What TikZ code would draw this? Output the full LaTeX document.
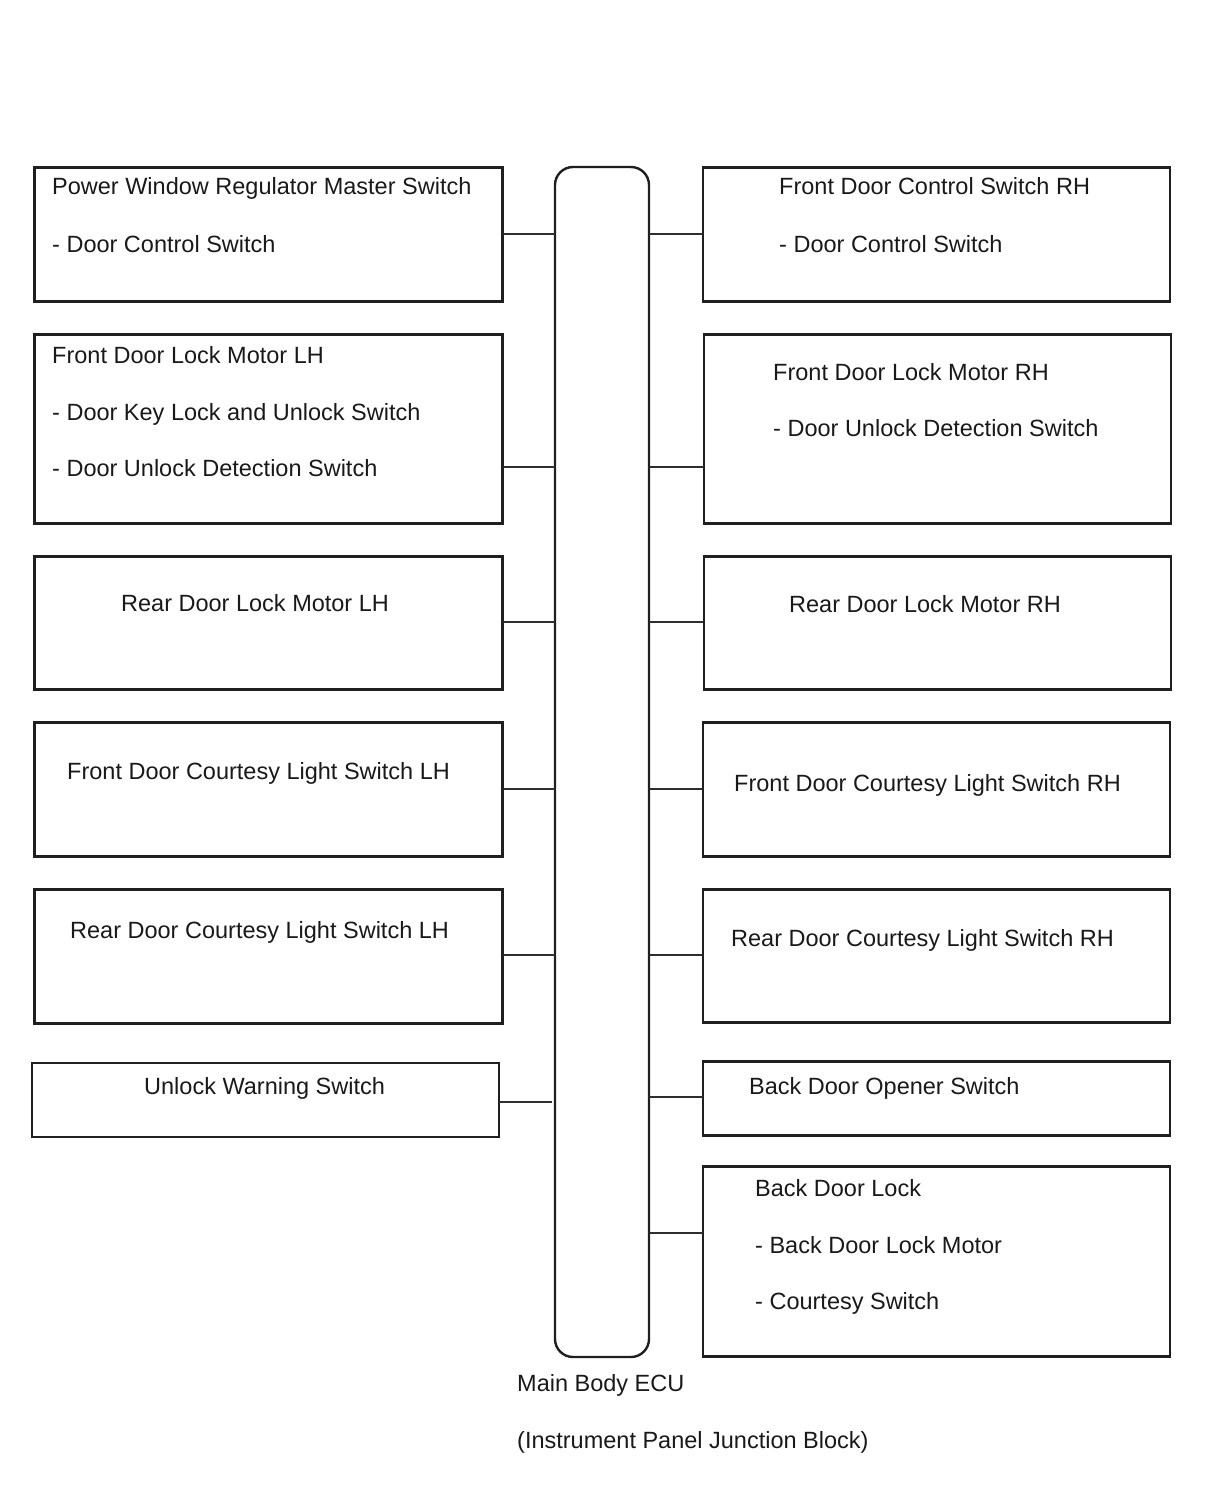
\documentclass[tikz,border=0pt]{standalone}
\usepackage{fontspec}
\setmainfont{Liberation Sans}
\begin{document}
\begin{tikzpicture}[x=1pt,y=-1pt,
  every node/.style={font=\fontsize{23.5}{28}\selectfont, text=black!90},
  box/.style={draw=black!88, line width=2.4pt, inner sep=0pt, outer sep=0pt, anchor=north west, fill=none},
  lbl/.style={anchor=base west, inner sep=0pt},
  conn/.style={draw=black!82, line width=2pt},
  ecubox/.style={draw=black!88, line width=2.4pt, rounded corners=18pt, inner sep=0pt, outer sep=0pt, anchor=north west, minimum width=94pt, minimum height=1190pt}]
\useasboundingbox (0,0) rectangle (1210,1498);
% ECU
\node[ecubox] (ecu) at (555,167) {};
\node[lbl] (ecuA) at (517,1391) {Main Body ECU};
\node[lbl] (ecuB) at (517,1448) {(Instrument Panel Junction Block)};
% Left boxes
\node[box, minimum width=468pt, minimum height=134pt] (L1) at (34.5,167.5) {};
\node[lbl] (L1a) at (52,195) {Power Window Regulator Master Switch};
\node[lbl] (L1b) at (52,252) {- Door Control Switch};
\node[box, minimum width=468pt, minimum height=189pt] (L2) at (34.5,334.5) {};
\node[lbl] (L2a) at (52,363) {Front Door Lock Motor LH};
\node[lbl] (L2b) at (52,420) {- Door Key Lock and Unlock Switch};
\node[lbl] (L2c) at (52,476) {- Door Unlock Detection Switch};
\node[box, minimum width=468pt, minimum height=133pt] (L3) at (34.5,556.5) {};
\node[lbl] (L3a) at (121,611) {Rear Door Lock Motor LH};
\node[box, minimum width=468pt, minimum height=134pt] (L4) at (34.5,722.5) {};
\node[lbl] (L4a) at (67,779) {Front Door Courtesy Light Switch LH};
\node[box, minimum width=468pt, minimum height=134pt] (L5) at (34.5,889.5) {};
\node[lbl] (L5a) at (70,938) {Rear Door Courtesy Light Switch LH};
\node[box, minimum width=467pt, minimum height=74pt] (L6) at (32,1063) {};
\node[lbl] (L6a) at (144,1094) {Unlock Warning Switch};
% Right boxes
\node[box, minimum width=467pt, minimum height=134pt] (R1) at (703,167.5) {};
\node[lbl] (R1a) at (779,195) {Front Door Control Switch RH};
\node[lbl] (R1b) at (779,252) {- Door Control Switch};
\node[box, minimum width=467pt, minimum height=189pt] (R2) at (704,334.5) {};
\node[lbl] (R2a) at (773,380) {Front Door Lock Motor RH};
\node[lbl] (R2b) at (773,436) {- Door Unlock Detection Switch};
\node[box, minimum width=467pt, minimum height=133pt] (R3) at (704,556.5) {};
\node[lbl] (R3a) at (789,612) {Rear Door Lock Motor RH};
\node[box, minimum width=467pt, minimum height=134pt] (R4) at (703,722.5) {};
\node[lbl] (R4a) at (734,791) {Front Door Courtesy Light Switch RH};
\node[box, minimum width=467pt, minimum height=133pt] (R5) at (703,889.5) {};
\node[lbl] (R5a) at (731,946) {Rear Door Courtesy Light Switch RH};
\node[box, minimum width=467pt, minimum height=74pt] (R6) at (703,1061.5) {};
\node[lbl] (R6a) at (749,1094) {Back Door Opener Switch};
\node[box, minimum width=467pt, minimum height=190pt] (R7) at (703,1166.5) {};
\node[lbl] (R7a) at (755,1196) {Back Door Lock};
\node[lbl] (R7b) at (755,1253) {- Back Door Lock Motor};
\node[lbl] (R7c) at (755,1309) {- Courtesy Switch};
% connector heights
\coordinate (y1) at (0,234);
\coordinate (y2) at (0,467);
\coordinate (y3) at (0,622);
\coordinate (y4) at (0,789);
\coordinate (y5) at (0,955);
\coordinate (y6) at (0,1102);
\coordinate (y6r) at (0,1097);
\coordinate (y7) at (0,1233);
\draw[conn] (L1.east |- y1) -- (ecu.west |- y1);
\draw[conn] (L2.east |- y2) -- (ecu.west |- y2);
\draw[conn] (L3.east |- y3) -- (ecu.west |- y3);
\draw[conn] (L4.east |- y4) -- (ecu.west |- y4);
\draw[conn] (L5.east |- y5) -- (ecu.west |- y5);
\draw[conn, shorten >=3pt] (L6.east |- y6) -- (ecu.west |- y6);
\draw[conn] (ecu.east |- y1) -- (R1.west |- y1);
\draw[conn] (ecu.east |- y2) -- (R2.west |- y2);
\draw[conn] (ecu.east |- y3) -- (R3.west |- y3);
\draw[conn] (ecu.east |- y4) -- (R4.west |- y4);
\draw[conn] (ecu.east |- y5) -- (R5.west |- y5);
\draw[conn] (ecu.east |- y6r) -- (R6.west |- y6r);
\draw[conn] (ecu.east |- y7) -- (R7.west |- y7);
\end{tikzpicture}
\end{document}
